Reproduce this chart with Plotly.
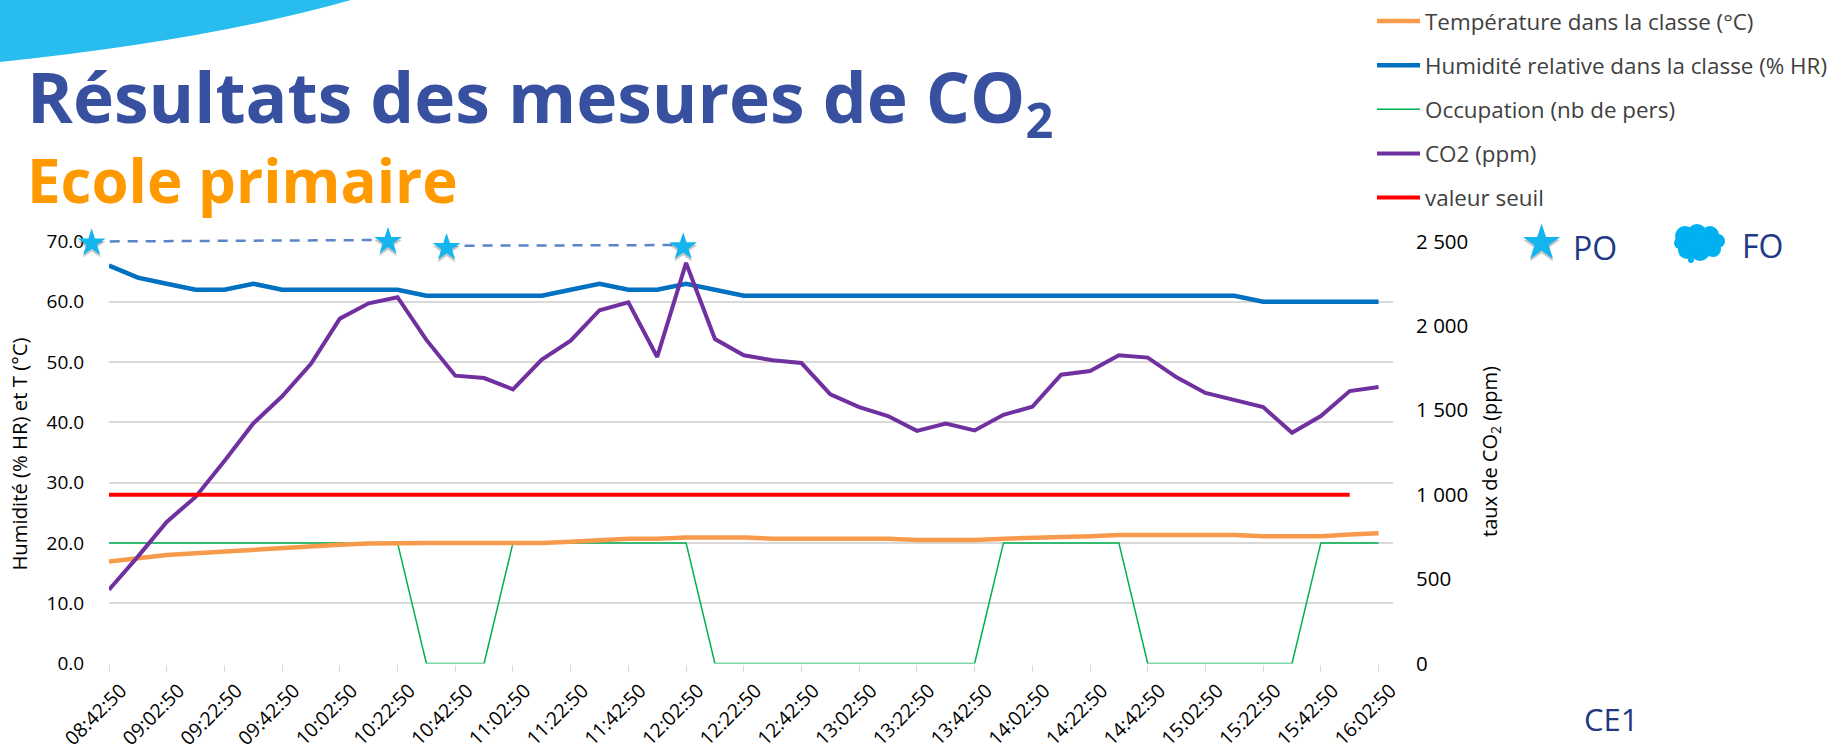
import plotly.graph_objects as go

tick_labels = ["08:42:50","09:02:50","09:22:50","09:42:50","10:02:50","10:22:50","10:42:50","11:02:50",
               "11:22:50","11:42:50","12:02:50","12:22:50","12:42:50","13:02:50","13:22:50","13:42:50",
               "14:02:50","14:22:50","14:42:50","15:02:50","15:22:50","15:42:50","16:02:50"]
times = list(range(45))
temperature = [16.9,17.5,18.0,18.3,18.6,18.9,19.2,19.4,19.7,19.9,20.0,20.0,20.0,20.0,20.0,20.0,20.2,20.5,20.7,20.7,20.9,
               20.9,20.9,20.7,20.7,20.7,20.7,20.7,20.5,20.5,20.5,20.7,20.8,21.0,21.1,21.3,21.3,21.3,21.3,21.3,21.1,21.1,21.1,21.4,21.6]
humidity = [66,64,63,62,62,63,62,62,62,62,62,61,61,61,61,61,62,63,62,62,63,
            62,61,61,61,61,61,61,61,61,61,61,61,61,61,61,61,61,61,61,60,60,60,60,60]
occupation = [20,20,20,20,20,20,20,20,20,20,20,0,0,0,20,20,20,20,20,20,20,
              0,0,0,0,0,0,0,0,0,0,20,20,20,20,20,0,0,0,0,0,0,20,20,20]
co2 = [437,633,839,987,1200,1422,1583,1776,2043,2134,2170,1917,1705,1691,1624,1800,1913,2093,2140,1816,2373,
       1922,1826,1796,1780,1594,1519,1466,1378,1422,1381,1473,1521,1711,1733,1826,1812,1695,1603,1564,1519,1367,1466,1614,1638]
threshold = [1000]*44
po_x_a = [-0.6, 9.67]
po_y_a = [2500, 2509]
po_x_b = [11.7, 19.9]
po_y_b = [2475, 2479]
star_x = [-0.6, 9.67, 11.7, 19.9]
star_y = [2491, 2500, 2464, 2468]
key_star_x = [49.65]
key_star_y = [2491]

W, H = 1831, 756
L, R, T, B = 109, 1393, 241.5, 663.5
px = lambda v: v / W
py = lambda v: 1 - v / H
FONT = "Open Sans"
NAVY = "#1F3A85"
X_PER_PX = 44.5 / (R - L)
PPM_PER_PX = 2500 / (B - T)

fig = go.Figure()
fig.add_trace(go.Scatter(x=times, y=occupation, name="Occupation (nb de pers)", mode="lines", legendgroup="c", legendrank=3,
                         line=dict(color="#00B050", width=1.5)))
fig.add_trace(go.Scatter(x=times, y=humidity, name="Humidité relative dans la classe (% HR)", mode="lines", legendgroup="b", legendrank=2,
                         line=dict(color="#0070C0", width=4.5)))
fig.add_trace(go.Scatter(x=times, y=temperature, name="Température dans la classe (°C)", mode="lines", legendgroup="a", legendrank=1,
                         line=dict(color="#F79A4B", width=4.5)))
fig.add_trace(go.Scatter(x=times, y=co2, name="CO2 (ppm)", mode="lines", yaxis="y2", legendgroup="d", legendrank=4,
                         line=dict(color="#7030A0", width=4)))
fig.add_trace(go.Scatter(x=times[:44], y=threshold, name="valeur seuil", mode="lines", yaxis="y2", legendgroup="e", legendrank=5,
                         line=dict(color="#FF0000", width=4)))
for xs, ys in ((po_x_a, po_y_a), (po_x_b, po_y_b)):
    fig.add_trace(go.Scatter(x=xs, y=ys, mode="lines", xaxis="x2", yaxis="y3", showlegend=False,
                             line=dict(color="#5B84C8", width=2.5, dash="10px,8px")))
for xs, ys, size in ((star_x, star_y, 21), (key_star_x, key_star_y, 28)):
    fig.add_trace(go.Scatter(x=xs, y=[v - 16 for v in ys], mode="markers", xaxis="x2", yaxis="y3", showlegend=False,
                             marker=dict(symbol="star", size=size, color="rgba(90,90,90,0.35)", line_width=0)))
    fig.add_trace(go.Scatter(x=xs, y=ys, mode="markers", xaxis="x2", yaxis="y3", showlegend=False,
                             marker=dict(symbol="star", size=size, color="#14B4EE", line_width=0)))

shapes = [dict(type="path", xref="paper", yref="paper", layer="below", fillcolor="#29BDEF", line_width=0,
               path=f"M {px(0)} {py(0)} L {px(351)} {py(0)} Q {px(210)} {py(40)} {px(0)} {py(62)} Z")]
blobs = [(1685,236,10),(1697,234,10),(1710,235,9),(1718,241,7),(1713,249,8),(1700,251,10),(1687,250,9),(1680,243,6),(1699,242,13),(1691,260,3)]
for cx, cy, r in blobs:
    shapes.append(dict(type="circle", xref="paper", yref="paper", fillcolor="#00B0F0", line_width=0,
                       x0=px(cx - r), x1=px(cx + r), y0=py(cy + r), y1=py(cy - r)))

def note(text, x, y, size, color, anchor="left", bold=False, angle=0):
    return dict(text=f"<b>{text}</b>" if bold else text, xref="paper", yref="paper", x=px(x), y=py(y), xanchor=anchor, yanchor="middle",
                showarrow=False, textangle=angle, font=dict(family=FONT, size=size, color=color))

annotations = [
    note("Résultats des mesures de CO<sub>2</sub>", 25, 100, 69.5, "#37509F", bold=True),
    note("Ecole primaire", 25, 180, 60, "#FF9900", bold=True),
    note("PO", 1571, 247, 32, NAVY),
    note("FO", 1740, 245, 32, NAVY),
    note("CE1", 1582, 719, 31, NAVY),
    note("Humidité (% HR) et T (°C)", 18.6, 454, 20.3, "#000000", anchor="center", angle=-90),
    note("taux de CO<sub>2</sub> (ppm)", 1490, 452, 20, "#000000", anchor="center", angle=-90),
]

fig.update_layout(
    width=W, height=H, margin=dict(l=0, r=0, t=0, b=0, autoexpand=False),
    paper_bgcolor="white", plot_bgcolor="rgba(0,0,0,0)", showlegend=True,
    font=dict(family=FONT, color="#000000"),
    shapes=shapes, annotations=annotations,
    legend=dict(x=px(1372), y=py(0), xanchor="left", yanchor="top", traceorder="grouped", tracegroupgap=12,
                itemwidth=43, font=dict(family=FONT, size=22.4, color="#404040"), bgcolor="rgba(0,0,0,0)"),
    xaxis=dict(domain=[L / W, R / W], range=[0, 44.5], tickmode="array", tickvals=times[::2], ticktext=tick_labels, tickangle=-45,
               ticks="outside", ticklen=7, tickcolor="#D9D9D9", showgrid=False, showline=False, zeroline=False,
               ticklabelshift=12, tickfont=dict(size=19.5), anchor="y"),
    yaxis=dict(domain=[1 - B / H, 1 - T / H], range=[0, 70], tickvals=list(range(0, 71, 10)), tickformat=".1f", gridcolor="#D9D9D9",
               gridwidth=1.5, zeroline=False, ticks="outside", ticklen=20, tickcolor="rgba(0,0,0,0)", tickfont=dict(size=19), anchor="x"),
    yaxis2=dict(range=[0, 2500], tickvals=list(range(0, 2501, 500)),
                ticktext=["0","500","1 000","1 500","2 000","2 500"],
                overlaying="y", side="right", showgrid=False, zeroline=False, anchor="x",
                ticks="outside", ticklen=18, tickcolor="rgba(0,0,0,0)", tickfont=dict(size=20.5)),
    xaxis2=dict(domain=[0, 1], range=[-L * X_PER_PX, (W - L) * X_PER_PX], visible=False, anchor="y3"),
    yaxis3=dict(domain=[0, 1], range=[(B - H) * PPM_PER_PX, B * PPM_PER_PX], visible=False, anchor="x2"),
)
fig.write_html("out.html", config={"displayModeBar": False},
               post_script="document.body.style.margin='0';document.body.style.overflow='hidden';")
